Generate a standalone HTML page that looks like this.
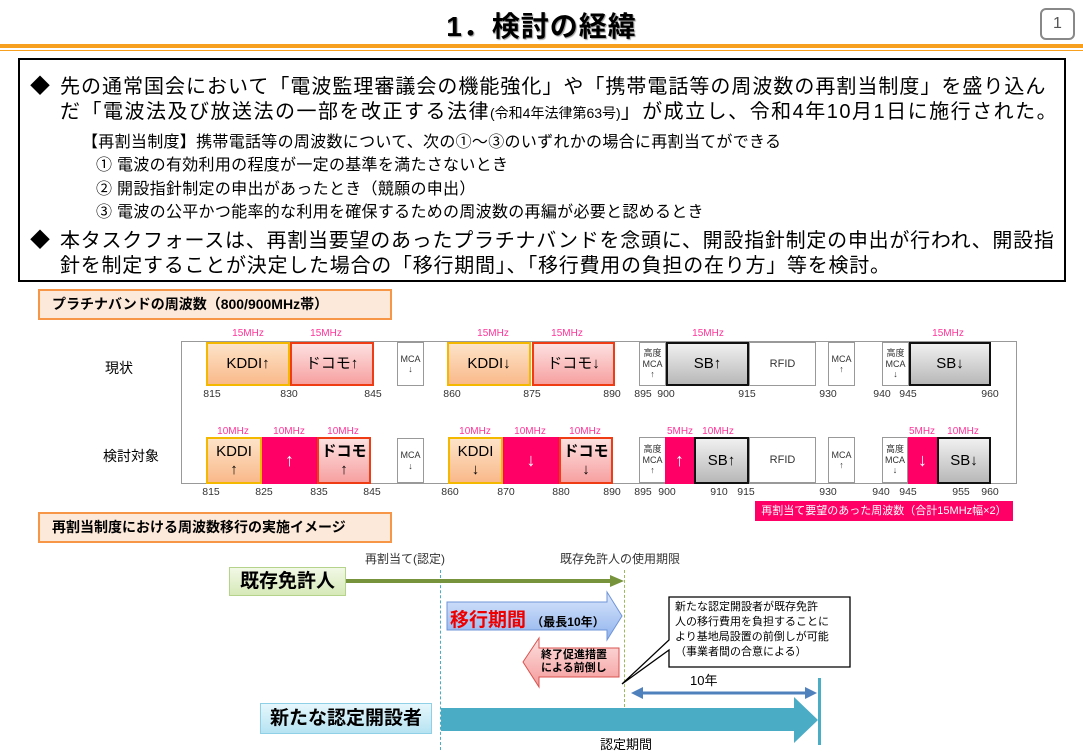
<!DOCTYPE html>
<html><head><meta charset="utf-8"><style>
body{margin:0;width:1083px;height:750px;background:#fff;position:relative;overflow:hidden;font-family:"Liberation Sans","Noto Sans CJK JP",sans-serif;color:#000}
.a{position:absolute;white-space:nowrap}
.box{position:absolute;box-sizing:border-box;display:flex;align-items:center;justify-content:center;text-align:center;line-height:1.15}
.k{background:linear-gradient(#fde3c8,#f9b98a);border:2px solid #f5b800;font-size:15px}
.d{background:linear-gradient(#fde0e0,#f7a0a0);border:2px solid #f03c14;font-size:15px}
.p{background:#ff0066;color:#fff;font-size:18px;font-weight:bold}
.sb{background:linear-gradient(#f0f0f0,#b8b8b8);border:2px solid #111;font-size:15px}
.m{background:#fff;border:1px solid #999;font-size:9px;color:#333}
.r{background:#fff;border:1px solid #999;font-size:11px;color:#333}
.mz{color:#ff3399;font-size:10px;position:absolute;transform:translateX(-50%)}
.n{font-size:10.5px;color:#333;position:absolute;transform:translateX(-50%)}
.hdr{position:absolute;box-sizing:border-box;background:#fde9d9;border:2px solid #f79646;font-weight:bold;font-size:14px;padding-left:12px;line-height:27px}
</style></head><body>
<div class="a" style="left:0;width:1083px;text-align:center;top:5px;font-size:28px;font-weight:bold;letter-spacing:1px;text-shadow:1px 1px 1px #999">1．検討の経緯</div>
<div class="box" style="left:1040px;top:8px;width:35px;height:32px;border:2px solid #888;border-radius:6px;font-size:16px;color:#555">1</div>
<div class="a" style="left:0;top:44px;width:1083px;height:4px;background:#f7a020"></div>
<div class="a" style="left:0;top:50px;width:1083px;height:1px;background:#f7a020"></div>

<div class="a" style="left:18px;top:58px;width:1048px;height:224px;border:2px solid #000;box-sizing:border-box"></div>
<div class="a" style="left:30px;top:70px;font-size:20px">◆</div>
<div class="a" style="left:60px;top:70px;font-size:20px;letter-spacing:1.0px">先の通常国会において「電波監理審議会の機能強化」や「携帯電話等の周波数の再割当制度」を盛り込ん</div>
<div class="a" style="left:60px;top:95px;font-size:20px;letter-spacing:1.5px">だ「電波法及び放送法の一部を改正する法律<span style="font-size:14px;letter-spacing:0">(令和4年法律第63号)</span>」が成立し、令和4年10月1日に施行された。</div>
<div class="a" style="left:82px;top:128px;font-size:16px;letter-spacing:0.3px">【再割当制度】携帯電話等の周波数について、次の①～③のいずれかの場合に再割当てができる</div>
<div class="a" style="left:96px;top:151px;font-size:16px;letter-spacing:0.3px">① 電波の有効利用の程度が一定の基準を満たさないとき</div>
<div class="a" style="left:96px;top:175px;font-size:16px;letter-spacing:0.3px">② 開設指針制定の申出があったとき（競願の申出）</div>
<div class="a" style="left:96px;top:198px;font-size:16px;letter-spacing:0.3px">③ 電波の公平かつ能率的な利用を確保するための周波数の再編が必要と認めるとき</div>
<div class="a" style="left:30px;top:224px;font-size:20px">◆</div>
<div class="a" style="left:60px;top:224px;font-size:20px;letter-spacing:0.75px">本タスクフォースは、再割当要望のあったプラチナバンドを念頭に、開設指針制定の申出が行われ、開設指</div>
<div class="a" style="left:60px;top:249px;font-size:20px;letter-spacing:0.75px">針を制定することが決定した場合の「移行期間」、「移行費用の負担の在り方」等を検討。</div>

<div class="hdr" style="left:38px;top:289px;width:354px;height:31px">プラチナバンドの周波数（800/900MHz帯）</div>

<div class="a" style="left:181px;top:341px;width:835px;height:1px;background:#999"></div>
<div class="a" style="left:181px;top:341px;width:1px;height:143px;background:#999"></div>
<div class="a" style="left:1016px;top:341px;width:1px;height:143px;background:#999"></div>
<div class="a" style="left:181px;top:483px;width:835px;height:1px;background:#999"></div>
<div class="a" style="left:105px;top:358px;font-size:14px">現状</div>
<div class="a" style="left:103px;top:446px;font-size:14px">検討対象</div>

<div class="box k" style="left:206px;top:342px;width:84px;height:44px">KDDI↑</div>
<div class="box d" style="left:290px;top:342px;width:84px;height:44px">ドコモ↑</div>
<div class="box m" style="left:397px;top:342px;width:27px;height:44px">MCA<br>↓</div>
<div class="box k" style="left:447px;top:342px;width:84px;height:44px">KDDI↓</div>
<div class="box d" style="left:532px;top:342px;width:83px;height:44px">ドコモ↓</div>
<div class="box m" style="left:639px;top:342px;width:27px;height:44px">高度<br>MCA<br>↑</div>
<div class="box sb" style="left:666px;top:342px;width:83px;height:44px">SB↑</div>
<div class="box r" style="left:749px;top:342px;width:67px;height:44px">RFID</div>
<div class="box m" style="left:828px;top:342px;width:27px;height:44px">MCA<br>↑</div>
<div class="box m" style="left:882px;top:342px;width:27px;height:44px">高度<br>MCA<br>↓</div>
<div class="box sb" style="left:909px;top:342px;width:82px;height:44px">SB↓</div>
<div class="mz" style="left:248px;top:328px">15MHz</div><div class="mz" style="left:326px;top:328px">15MHz</div>
<div class="mz" style="left:493px;top:328px">15MHz</div><div class="mz" style="left:567px;top:328px">15MHz</div>
<div class="mz" style="left:708px;top:328px">15MHz</div><div class="mz" style="left:948px;top:328px">15MHz</div>
<div class="n" style="left:212px;top:388px">815</div><div class="n" style="left:289px;top:388px">830</div><div class="n" style="left:373px;top:388px">845</div>
<div class="n" style="left:452px;top:388px">860</div><div class="n" style="left:532px;top:388px">875</div><div class="n" style="left:612px;top:388px">890</div>
<div class="n" style="left:643px;top:388px">895</div><div class="n" style="left:666px;top:388px">900</div><div class="n" style="left:747px;top:388px">915</div>
<div class="n" style="left:828px;top:388px">930</div><div class="n" style="left:882px;top:388px">940</div><div class="n" style="left:908px;top:388px">945</div><div class="n" style="left:990px;top:388px">960</div>

<div class="box k" style="left:206px;top:437px;width:56px;height:47px">KDDI<br>↑</div>
<div class="box p" style="left:262px;top:437px;width:55px;height:47px">↑</div>
<div class="box d" style="left:317px;top:437px;width:54px;height:47px;font-weight:bold">ドコモ<br>↑</div>
<div class="box m" style="left:397px;top:438px;width:27px;height:45px">MCA<br>↓</div>
<div class="box k" style="left:448px;top:437px;width:55px;height:47px">KDDI<br>↓</div>
<div class="box p" style="left:503px;top:437px;width:56px;height:47px">↓</div>
<div class="box d" style="left:559px;top:437px;width:54px;height:47px;font-weight:bold">ドコモ<br>↓</div>
<div class="box m" style="left:639px;top:437px;width:27px;height:46px">高度<br>MCA<br>↑</div>
<div class="box p" style="left:665px;top:437px;width:29px;height:47px">↑</div>
<div class="box sb" style="left:694px;top:437px;width:55px;height:47px">SB↑</div>
<div class="box r" style="left:749px;top:437px;width:67px;height:46px">RFID</div>
<div class="box m" style="left:828px;top:437px;width:27px;height:46px">MCA<br>↑</div>
<div class="box m" style="left:882px;top:437px;width:26px;height:46px">高度<br>MCA<br>↓</div>
<div class="box p" style="left:908px;top:437px;width:29px;height:47px">↓</div>
<div class="box sb" style="left:937px;top:437px;width:54px;height:47px">SB↓</div>
<div class="mz" style="left:233px;top:426px">10MHz</div><div class="mz" style="left:289px;top:426px">10MHz</div><div class="mz" style="left:343px;top:426px">10MHz</div>
<div class="mz" style="left:475px;top:426px">10MHz</div><div class="mz" style="left:530px;top:426px">10MHz</div><div class="mz" style="left:585px;top:426px">10MHz</div>
<div class="mz" style="left:680px;top:426px">5MHz</div><div class="mz" style="left:718px;top:426px">10MHz</div>
<div class="mz" style="left:922px;top:426px">5MHz</div><div class="mz" style="left:963px;top:426px">10MHz</div>
<div class="n" style="left:211px;top:486px">815</div><div class="n" style="left:264px;top:486px">825</div><div class="n" style="left:319px;top:486px">835</div><div class="n" style="left:372px;top:486px">845</div>
<div class="n" style="left:450px;top:486px">860</div><div class="n" style="left:506px;top:486px">870</div><div class="n" style="left:561px;top:486px">880</div><div class="n" style="left:612px;top:486px">890</div>
<div class="n" style="left:643px;top:486px">895</div><div class="n" style="left:667px;top:486px">900</div><div class="n" style="left:719px;top:486px">910</div><div class="n" style="left:746px;top:486px">915</div>
<div class="n" style="left:828px;top:486px">930</div><div class="n" style="left:881px;top:486px">940</div><div class="n" style="left:908px;top:486px">945</div><div class="n" style="left:961px;top:486px">955</div><div class="n" style="left:990px;top:486px">960</div>
<div class="box" style="left:755px;top:501px;width:258px;height:20px;background:#ff0066;color:#fff;font-size:11px">再割当て要望のあった周波数（合計15MHz幅×2）</div>

<div class="hdr" style="left:38px;top:512px;width:354px;height:31px">再割当制度における周波数移行の実施イメージ</div>

<div class="a" style="left:365px;top:550px;font-size:12px;color:#333">再割当て(認定)</div>
<div class="a" style="left:560px;top:550px;font-size:12px;color:#333">既存免許人の使用期限</div>
<div class="a" style="left:440px;top:570px;height:180px;border-left:1px dashed #4bacc6"></div>
<div class="a" style="left:624px;top:570px;height:137px;border-left:1px dashed #9bbb59"></div>
<div class="box" style="left:229px;top:567px;width:117px;height:29px;background:linear-gradient(#f2f8e6,#d7e9b8);border:1px solid #b5d38a;font-size:19px;font-weight:bold">既存免許人</div>
<svg class="a" style="left:0;top:0" width="1083" height="750">
<line x1="346" y1="581" x2="612" y2="581" stroke="#77933c" stroke-width="4"/>
<polygon points="610,575 624,581 610,587" fill="#77933c"/>
<defs><linearGradient id="bg" x1="0" y1="0" x2="0" y2="1"><stop offset="0" stop-color="#dbe7fb"/><stop offset="1" stop-color="#8fb3ee"/></linearGradient>
<linearGradient id="rg" x1="0" y1="0" x2="0" y2="1"><stop offset="0" stop-color="#fde0e0"/><stop offset="1" stop-color="#f59a9a"/></linearGradient></defs>
<polygon points="447,602 607,602 607,592 622,616 607,640 607,630 447,630" fill="url(#bg)" stroke="#6f95d8" stroke-width="1"/>
<polygon points="619,648 539,648 539,638 523,662 539,687 539,677 619,677" fill="url(#rg)" stroke="#d9534f" stroke-width="1"/>
<polygon points="669,597 850,597 850,667 669,667 669,650 622,684 669,640" fill="#fff" stroke="#000" stroke-width="1.3"/>
<line x1="640" y1="693" x2="808" y2="693" stroke="#4f81bd" stroke-width="3"/>
<polygon points="631,693 643,687 643,699" fill="#4f81bd"/><polygon points="817,693 805,687 805,699" fill="#4f81bd"/>
<rect x="818" y="678" width="3" height="67" fill="#4bacc6"/>
<polygon points="441,708 794,708 794,697 818,720 794,743 794,731 441,731" fill="#4bacc6"/>
</svg>
<div class="a" style="left:450px;top:605px;font-size:19px;font-weight:bold;color:#e00">移行期間 <span style="font-size:12px;color:#000">（最長10年）</span></div>
<div class="a" style="left:541px;top:649px;font-size:11px;font-weight:bold;line-height:13px">終了促進措置<br>による前倒し</div>
<div class="a" style="left:675px;top:600px;font-size:11px;line-height:15px">新たな認定開設者が既存免許<br>人の移行費用を負担することに<br>より基地局設置の前倒しが可能<br>（事業者間の合意による）</div>
<div class="a" style="left:690px;top:670px;font-size:13px">10年</div>
<div class="box" style="left:260px;top:703px;width:172px;height:31px;background:linear-gradient(#e6f7fc,#b6e3f2);border:1px solid #8fd0e6;font-size:19px;font-weight:bold">新たな認定開設者</div>
<div class="a" style="left:600px;top:734px;font-size:13px">認定期間</div>
</body></html>
